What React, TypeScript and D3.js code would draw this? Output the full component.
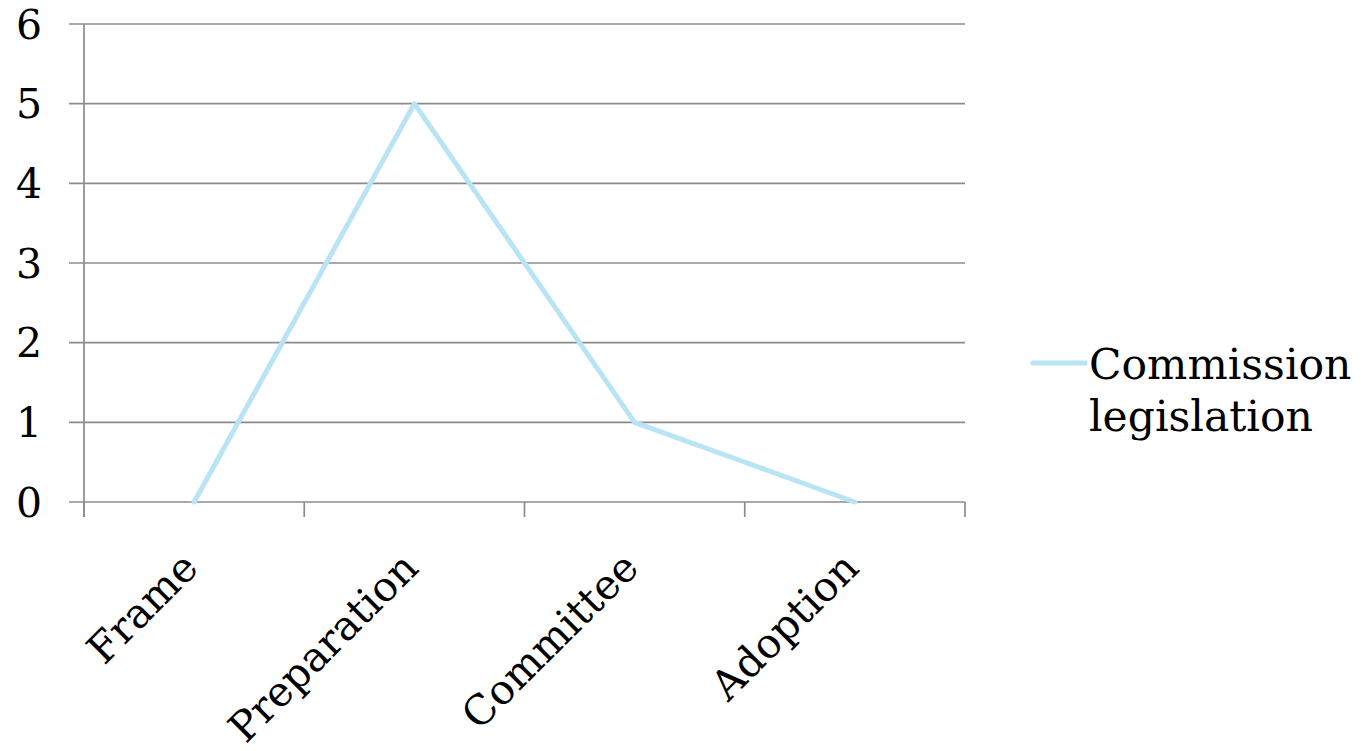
import React, { useEffect, useRef } from "react";
import * as d3 from "d3";

const categories = ["Frame", "Preparation", "Committee", "Adoption"];
const seriesName = ["Commission", "legislation"];
const values = [0, 5, 1, 0];
const yTicks = [0, 1, 2, 3, 4, 5, 6];

export default function App() {
  const ref = useRef<SVGSVGElement>(null);
  useEffect(() => {
    const svg = d3.select(ref.current);
    svg.selectAll("*").remove();
    const left = 84, right = 965, top = 24, bottom = 502;
    const font = "'DejaVu Serif', 'Liberation Serif', serif";
    const x = d3.scaleBand().domain(categories).range([left, right]);
    const y = d3.scaleLinear().domain([0, 6]).range([bottom, top]);
    const grid = "#8c8c8c";

    svg.append("g").selectAll("line").data(yTicks).join("line")
      .attr("x1", left - 15).attr("x2", right)
      .attr("y1", (d) => y(d)).attr("y2", (d) => y(d))
      .attr("stroke", grid).attr("stroke-width", 1.7);
    svg.append("line").attr("x1", left).attr("x2", left)
      .attr("y1", top).attr("y2", bottom + 15)
      .attr("stroke", grid).attr("stroke-width", 1.7);
    const xt = categories.map((c) => x(c)!).concat([right]);
    svg.append("g").selectAll("line").data(xt).join("line")
      .attr("x1", (d) => d).attr("x2", (d) => d)
      .attr("y1", bottom).attr("y2", bottom + 15)
      .attr("stroke", grid).attr("stroke-width", 1.7);
    svg.append("g").selectAll("text").data(yTicks).join("text")
      .attr("x", 42).attr("y", (d) => y(d))
      .attr("dy", "0.36em").attr("text-anchor", "end")
      .attr("font-family", font).attr("font-size", 41).attr("fill", "#000")
      .text((d) => String(d));
    svg.append("g").selectAll("text").data(categories).join("text")
      .attr("text-anchor", "end")
      .attr("transform", (d) => `translate(${x(d)! + x.bandwidth() / 2 + 6},${bottom + 68}) rotate(-45)`)
      .attr("font-family", font).attr("font-size", 41).attr("fill", "#000")
      .text((d) => d);
    const line = d3.line<number>()
      .x((_, i) => x(categories[i])! + x.bandwidth() / 2)
      .y((d) => y(d));
    svg.append("path").datum(values).attr("d", line)
      .attr("fill", "none").attr("stroke", "#b9e4f5").attr("stroke-width", 5)
      .attr("stroke-linecap", "round").attr("stroke-linejoin", "round");
    svg.append("line").attr("x1", 1033).attr("x2", 1085).attr("y1", 363).attr("y2", 363)
      .attr("stroke", "#b9e4f5").attr("stroke-width", 5).attr("stroke-linecap", "round");
    svg.append("g").selectAll("text").data(seriesName).join("text")
      .attr("x", 1089).attr("y", (_, i) => 379 + i * 52)
      .attr("font-family", font).attr("font-size", 42.5).attr("fill", "#000")
      .text((d) => d);
  }, []);
  return (
    <svg ref={ref} width={1361} height={751}
      style={{ position: "absolute", left: 0, top: 0, background: "#fff" }} />
  );
}
